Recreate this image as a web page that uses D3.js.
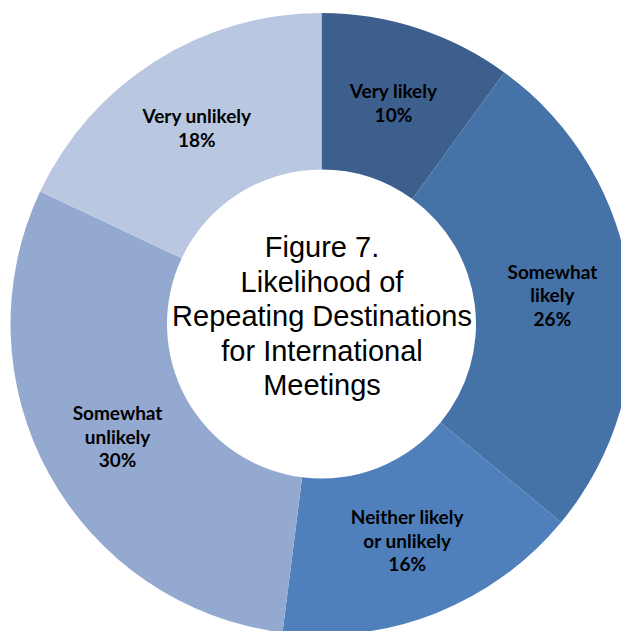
<!DOCTYPE html>
<html lang="en">
<head>
  <meta charset="UTF-8">
  <title>Figure 7. Likelihood of Repeating Destinations</title>
  <style>
    body { margin: 0; background: #fff; }
    .label { font-family: Lato, "Open Sans", sans-serif; font-weight: bold; fill: #000; }
    .title { font-family: "Liberation Sans", Arial, sans-serif; fill: #000; }
  </style>
</head>
<body>
  <svg width="621" height="631"></svg>
  <script src="https://d3js.org/d3.v7.min.js"></script>
  <script>
// Data
const categories = ['Very likely', 'Somewhat likely', 'Neither likely or unlikely', 'Somewhat unlikely', 'Very unlikely'];
const values = [10, 26, 16, 30, 18];
const labelLines = [
  ['Very likely'],
  ['Somewhat', 'likely'],
  ['Neither likely', 'or unlikely'],
  ['Somewhat', 'unlikely'],
  ['Very unlikely']
];
const colors = ['#3d5f8d', '#4572a7', '#4f80bc', '#94a9cf', '#b9c7e0'];
const titleLines = ['Figure 7.', 'Likelihood of', 'Repeating Destinations', 'for International', 'Meetings'];

const cx = 321.5, cy = 324,
      outerR = 311, innerR = 154.5;

const svg = d3.select('svg');
const g = svg.append('g').attr('transform', `translate(${cx},${cy})`);

const pie = d3.pie().sort(null).value(d => d);
const arcs = pie(values);

const arc = d3.arc().innerRadius(innerR).outerRadius(outerR);
const labelArc = d3.arc()
  .innerRadius((innerR + outerR) / 2)
  .outerRadius((innerR + outerR) / 2);

const color = d3.scaleOrdinal().domain(categories).range(colors);

// Slices
g.selectAll('path')
  .data(arcs)
  .enter()
  .append('path')
  .attr('d', arc)
  .attr('fill', (d, i) => color(categories[i]));

// Data labels
const lineH = 23.5;
const labels = g.selectAll('.label')
  .data(arcs)
  .enter()
  .append('text')
  .attr('class', 'label')
  .attr('text-anchor', 'middle')
  .style('font-size', '19px')
  .attr('transform', d => `translate(${labelArc.centroid(d)})`);

labels.each(function(d, i) {
  const lines = labelLines[i].concat([values[i] + '%']);
  const t = d3.select(this);
  const y0 = -(lines.length - 1) * lineH / 2 + 7.5;
  lines.forEach((ln, k) => {
    t.append('tspan')
      .attr('x', 0)
      .attr('y', y0 + k * lineH)
      .text(ln);
  });
});

// Center title
const titleH = 34.5;
const title = g.append('text')
  .attr('class', 'title')
  .attr('text-anchor', 'middle')
  .style('font-size', '29px');

titleLines.forEach((ln, k) => {
  title.append('tspan')
    .attr('x', 0.5)
    .attr('y', -67 + k * titleH)
    .text(ln);
});
  </script>
</body>
</html>
